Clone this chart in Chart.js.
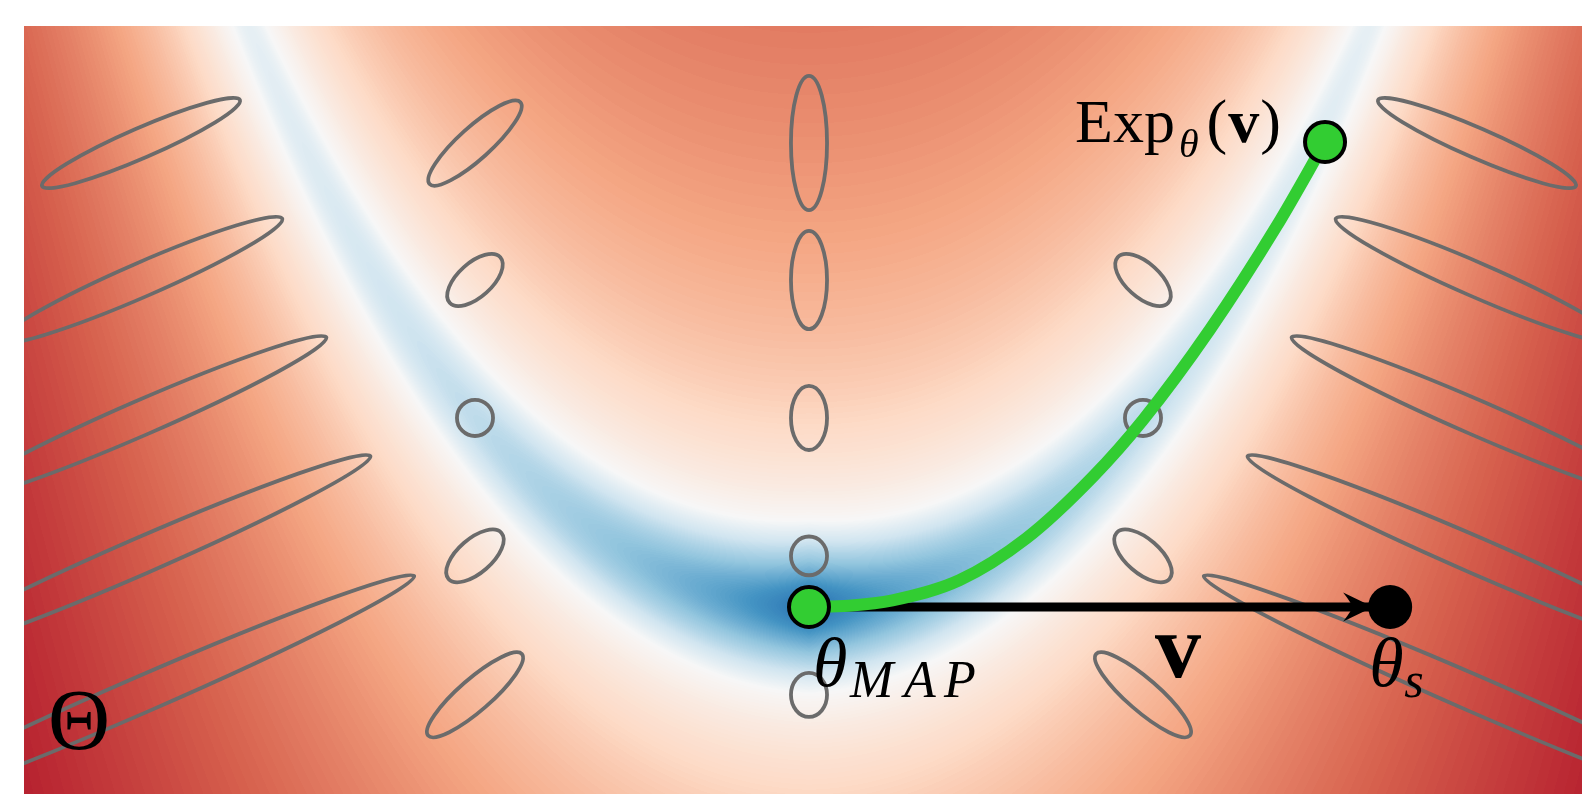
<!DOCTYPE html>
<html>
<head>
<meta charset="utf-8">
<script src="https://cdn.jsdelivr.net/npm/chart.js@4.4.1/dist/chart.umd.min.js"></script>
<style>
  html, body { margin: 0; padding: 0; background: #fff; overflow: hidden; }
  #wrap { width: 1582px; height: 794px; }
</style>
</head>
<body>
<div id="wrap"><canvas id="myChart"></canvas></div>
<script>
// geodesic from the MAP estimate (data units)
var geoX = [0, 0.12, 0.25, 0.45, 0.65, 0.85, 1.0, 1.2, 1.4, 1.545];
var geoY = [0, 0.004, 0.02, 0.08, 0.205, 0.39, 0.56, 0.83, 1.14, 1.392];

var mapX = [0], mapY = [0];          // theta_MAP
var expX = [1.545], expY = [1.392];  // Exp_theta(v)
var sampleX = [1.74], sampleY = [0]; // theta_s

// metric ellipses: centre, semi axes, angle of major axis (deg)
var ellX = [-2, -2, -2, -2, -2, -1, -1, -1, -1, -1, 0, 0, 0, 0, 0, 1, 1, 1, 1, 2, 2, 2, 2, 2];
var ellY = [1.389, 0.979, 0.566, 0.153, -0.263,
            1.389, 0.979, 0.566, 0.153, -0.263,
            1.389, 0.979, 0.566, 0.153, -0.263,
            0.979, 0.566, 0.153, -0.263,
            1.389, 0.979, 0.566, 0.153, -0.263];
var ellMajor = [0.323, 0.461, 0.605, 0.749, 0.892,
                0.183, 0.102, 0.054, 0.105, 0.186,
                0.201, 0.147, 0.096, 0.058, 0.066,
                0.102, 0.054, 0.105, 0.186,
                0.323, 0.461, 0.605, 0.749, 0.892];
var ellMinor = [0.045, 0.051, 0.052, 0.054, 0.054,
                0.048, 0.051, 0.054, 0.051, 0.048,
                0.054, 0.054, 0.054, 0.054, 0.054,
                0.051, 0.054, 0.051, 0.048,
                0.045, 0.051, 0.052, 0.054, 0.054];
var ellAngle = [23.5, 23.5, 23.5, 23.5, 23.5,
                42, 42, 0, 41, 41,
                90, 90, 90, 90, 90,
                -42, 0, -41, -41,
                -23.5, -23.5, -23.5, -23.5, -23.5];

// background field: valley y = a x^2 + b x^4, band width, length along valley
var valleyCoef = [0.5334, 0.0295];
var fieldScale = [0.26, 2.1];

// RdBu_r
var cmapStops = ["#053061", "#2166ac", "#4393c3", "#92c5de", "#d1e5f0", "#f7f7f7",
                 "#fddbc7", "#f4a582", "#d6604d", "#b2182b", "#67001f"];

function hexRgb(h) {
  return [parseInt(h.substr(1, 2), 16), parseInt(h.substr(3, 2), 16), parseInt(h.substr(5, 2), 16)];
}
var lut = [];
(function () {
  var st = cmapStops.map(hexRgb);
  for (var i = 0; i < 256; i++) {
    var t = i / 255 * (st.length - 1);
    var k = Math.min(Math.floor(t), st.length - 2);
    var f = t - k;
    lut.push([0, 1, 2].map(function (c) { return Math.round(st[k][c] + (st[k + 1][c] - st[k][c]) * f); }));
  }
})();

function fieldValue(xx, yy) {
  var vy = valleyCoef[0] * xx * xx + valleyCoef[1] * xx * xx * xx * xx;
  var r = (yy - vy) / fieldScale[0];
  var d = Math.sqrt(r * r + Math.abs(xx) / fieldScale[1]);
  var t = d < 1 ? 0.08 + 0.42 * d : 0.5 + 0.137 * Math.log(d);
  return Math.max(0, Math.min(1, t));
}

var heatmap = {
  id: "heatmap",
  beforeDatasetsDraw: function (chart) {
    var ctx = chart.ctx, a = chart.chartArea, xs = chart.scales.x, ys = chart.scales.y;
    var w = Math.round(a.right - a.left), h = Math.round(a.bottom - a.top);
    if (!chart.$heat || chart.$heat.width !== w || chart.$heat.height !== h) {
      var off = document.createElement("canvas");
      off.width = w; off.height = h;
      var octx = off.getContext("2d");
      var img = octx.createImageData(w, h);
      var vx = [], vy = [];
      for (var i = 0; i < w; i++) vx.push(xs.getValueForPixel(a.left + i + 0.5));
      for (var j = 0; j < h; j++) vy.push(ys.getValueForPixel(a.top + j + 0.5));
      for (var j2 = 0; j2 < h; j2++) {
        for (var i2 = 0; i2 < w; i2++) {
          var c = lut[Math.round(fieldValue(vx[i2], vy[j2]) * 255)];
          var p = (j2 * w + i2) * 4;
          img.data[p] = c[0]; img.data[p + 1] = c[1]; img.data[p + 2] = c[2]; img.data[p + 3] = 255;
        }
      }
      octx.putImageData(img, 0, 0);
      chart.$heat = off;
    }
    ctx.drawImage(chart.$heat, a.left, a.top);

    // metric ellipses
    var unit = xs.getPixelForValue(1) - xs.getPixelForValue(0);
    ctx.save();
    ctx.beginPath();
    ctx.rect(a.left, a.top, a.right - a.left, a.bottom - a.top);
    ctx.clip();
    ctx.strokeStyle = "#6b6b6b";
    ctx.lineWidth = 3.8;
    for (var e = 0; e < ellX.length; e++) {
      ctx.beginPath();
      ctx.ellipse(xs.getPixelForValue(ellX[e]), ys.getPixelForValue(ellY[e]),
        ellMajor[e] * unit, ellMinor[e] * unit, -ellAngle[e] * Math.PI / 180, 0, 2 * Math.PI);
      ctx.stroke();
    }
    ctx.restore();
  },
  afterDatasetsDraw: function (chart) {
    var ctx = chart.ctx, a = chart.chartArea, xs = chart.scales.x, ys = chart.scales.y;
    // arrow head
    var sx = xs.getPixelForValue(sampleX[0]), sy = ys.getPixelForValue(sampleY[0]);
    var tip = sx - 17;
    ctx.save();
    ctx.fillStyle = "#000";
    ctx.beginPath();
    ctx.moveTo(tip, sy);
    ctx.lineTo(tip - 30, sy - 14.5);
    ctx.quadraticCurveTo(tip - 21, sy - 3, tip - 21, sy);
    ctx.quadraticCurveTo(tip - 21, sy + 3, tip - 30, sy + 14.5);
    ctx.closePath();
    ctx.fill();

    // labels
    ctx.textBaseline = "alphabetic";
    ctx.textAlign = "left";
    var serif = "'Liberation Serif', 'DejaVu Serif', serif";
    function put(s, font, px, py) {
      ctx.font = font;
      ctx.fillText(s, px, py);
      return px + ctx.measureText(s).width;
    }
    var ex = xs.getPixelForValue(expX[0]), ey = ys.getPixelForValue(expY[0]);
    var cx = ex - 250;
    cx = put("Exp", "62px " + serif, cx, ey);
    cx = put("\u03B8", "italic 40px " + serif, cx + 4, ey + 15);
    cx = put("(", "62px " + serif, cx + 8, ey);
    cx = put("v", "bold 62px " + serif, cx + 1, ey);
    put(")", "62px " + serif, cx + 1, ey);

    var mx = xs.getPixelForValue(mapX[0]), my = ys.getPixelForValue(mapY[0]);
    put("\u03B8", "italic 70px " + serif, mx + 4, my + 79);
    put("M", "italic 52px " + serif, mx + 41, my + 90);
    put("A", "italic 52px " + serif, mx + 95, my + 90);
    put("P", "italic 52px " + serif, mx + 135, my + 90);

    put("\u03B8", "italic 70px " + serif, sx - 21, sy + 79);
    put("s", "italic 50px " + serif, sx + 14, sy + 90);

    put("v", "bold 92px " + serif, mx + 346, my + 70);
    put("\u0398", "86px " + serif, a.left + 24, a.bottom - 45);
    ctx.restore();
  }
};

var ctx = document.getElementById("myChart");
new Chart(ctx, {
  type: "scatter",
  data: {
    datasets: [
      {
        data: [{ x: mapX[0], y: mapY[0] }, { x: expX[0], y: expY[0] }],
        pointRadius: 20,
        pointBackgroundColor: "#32cd32",
        pointBorderColor: "#000",
        pointBorderWidth: 4,
        showLine: false,
        clip: false,
        order: 0
      },
      {
        data: [{ x: sampleX[0], y: sampleY[0] }],
        pointRadius: 22,
        pointBackgroundColor: "#000",
        pointBorderWidth: 0,
        showLine: false,
        clip: false,
        order: 0
      },
      {
        data: geoX.map(function (v, i) { return { x: v, y: geoY[i] }; }),
        showLine: true,
        borderColor: "#32cd32",
        borderWidth: 12,
        borderCapStyle: "round",
        cubicInterpolationMode: "monotone",
        pointRadius: 0,
        order: 1
      },
      {
        data: [{ x: mapX[0], y: mapY[0] }, { x: sampleX[0], y: sampleY[0] }],
        showLine: true,
        borderColor: "#000",
        borderWidth: 9,
        pointRadius: 0,
        order: 2
      }
    ]
  },
  options: {
    responsive: true,
    maintainAspectRatio: false,
    animation: false,
    events: [],
    layout: { autoPadding: false, padding: { left: 24, top: 26, right: 0, bottom: 0 } },
    plugins: { legend: { display: false }, tooltip: { enabled: false } },
    scales: {
      x: { type: "linear", min: -2.3503, max: 2.3144, display: false },
      y: { type: "linear", min: -0.5599, max: 1.7395, display: false }
    }
  },
  plugins: [heatmap]
});
</script>
</body>
</html>
